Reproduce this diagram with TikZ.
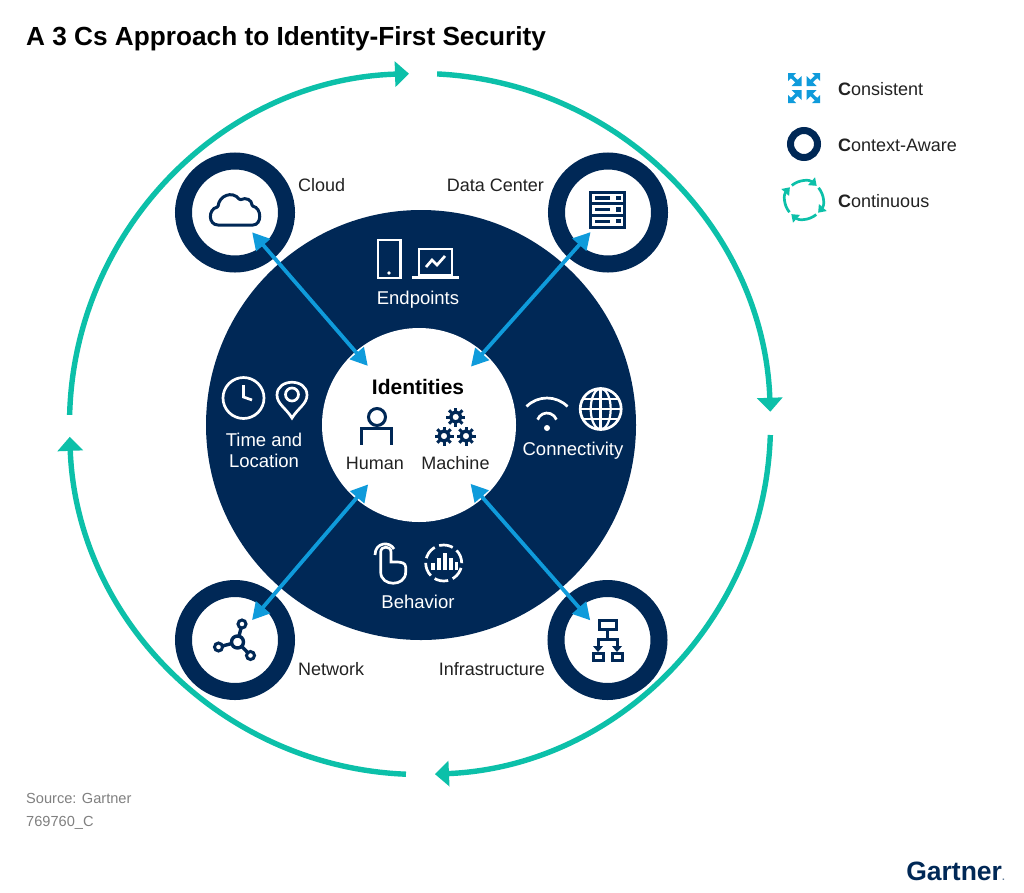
\documentclass[tikz,border=0pt]{standalone}
\usepackage{fontspec}
\setmainfont{Liberation Sans}
\usepackage{xcolor}
\usetikzlibrary{arrows.meta}
\definecolor{navy}{HTML}{002856}
\definecolor{teal}{HTML}{0CC0A9}
\definecolor{sky}{HTML}{0F9BDB}
\definecolor{inkgrey}{HTML}{222222}
\newcommand{\fs}[1]{\fontsize{#1}{21}\selectfont}
\tikzset{
  bigdisk/.style={circle, fill=navy, minimum size=430pt, inner sep=0pt},
  hubdisk/.style={circle, fill=white, minimum size=194pt, inner sep=0pt},
  hubstop/.style={circle, minimum size=156pt, inner sep=0pt},
  ringnode/.style={circle, draw=navy, line width=17pt, fill=white, minimum size=103pt, inner sep=0pt},
  iconstop/.style={circle, minimum size=52pt, inner sep=0pt},
  link/.style={sky, line width=3.8pt, {Triangle[length=17pt,width=18pt]}-{Triangle[length=17pt,width=18pt]}},
  loopline/.style={teal, line width=5.4pt},
  looparrow/.style={loopline, -{Triangle[length=14pt,width=25pt]}},
  whitelabel/.style={white, font=\fs{18.5}, align=center, inner sep=0pt},
  darklabel/.style={inkgrey, font=\fs{18}, inner sep=0pt},
  keylabel/.style={inkgrey, font=\fs{18}, anchor=west, inner sep=0pt},
  navyicon/.style={navy, line width=3pt},
  whiteicon/.style={white, line width=2.7pt},
  gear/.pic={
    \draw [navy, line width=3.4pt] (0,0) circle (5pt);
    \foreach \a in {0,45,...,315} \draw [navy, line width=3pt] (\a:6pt) -- (\a:9.5pt);
  }
}
\begin{document}
\begin{tikzpicture}[x=1pt, y=-1pt]
\useasboundingbox (0,0) rectangle (1024,892);
\fill [white] (0,0) rectangle (1024,892);

% Title
\node (title) [anchor=west, inner sep=0pt, font=\fs{26.2}\bfseries] at (26,39) {A 3 Cs Approach to Identity-First Security};

% Outer loop
\coordinate (loopcentre) at (420,424);
\draw [looparrow] (loopcentre) ++(-87.2:350.5) arc[start angle=-87.2, end angle=-2, radius=350.5];
\draw [looparrow] (loopcentre) ++(1.8:350.5) arc[start angle=1.8, end angle=87.55, radius=350.5];
\draw [looparrow] (loopcentre) ++(92.3:350.5) arc[start angle=92.3, end angle=177.9, radius=350.5];
\draw [looparrow] (loopcentre) ++(181.5:350.5) arc[start angle=181.5, end angle=268.2, radius=350.5];

% Centre
\node (ringdisk) [bigdisk] at (421,425) {};
\node (hubwhite) [hubdisk] at (419,425) {};
\node (hub) [hubstop] at (419,425) {};

% Corner rings
\node (cloud) [ringnode] at (235,212.5) {};
\node (datacenter) [ringnode] at (608,212.5) {};
\node (network) [ringnode] at (235,640) {};
\node (infra) [ringnode] at (607.5,640) {};
\node (cloudstop) [iconstop] at (cloud) {};
\node (datastop) [iconstop] at (datacenter) {};
\node (networkstop) [iconstop] at (network) {};
\node (infrastop) [iconstop] at (infra) {};

% Arrows
\draw [link] (cloudstop) -- (hub);
\draw [link] (datastop) -- (hub);
\draw [link] (networkstop) -- (hub);
\draw [link] (infrastop) -- (hub);

% Labels
\node (cloudlabel) [darklabel, anchor=west] at (298,185) {Cloud};
\node (datalabel) [darklabel, anchor=east] at (544,185) {Data Center};
\node (networklabel) [darklabel, anchor=west] at (298,669) {Network};
\node (infralabel) [darklabel, anchor=east] at (545,669) {Infrastructure};
\node (endpoints) [whitelabel] at (418,300) {Endpoints};
\node (timeloc) [whitelabel] at (264,450) {Time and\\Location};
\node (connectivity) [whitelabel] at (573,451) {Connectivity};
\node (behavior) [whitelabel] at (418,602) {Behavior};
\node (identities) [inner sep=0pt, font=\fs{21}\bfseries] at (418,386.5) {Identities};
\node (human) [darklabel] at (375,463) {Human};
\node (machine) [darklabel] at (455.5,463) {Machine};

% Cloud icon
\draw [navyicon, rounded corners=1pt] (219,225) .. controls (208,225) and (208,209) .. (218,207) .. controls (219,196) and (232,190) .. (240,200) .. controls (246,197) and (252,200) .. (252,206) .. controls (262,208) and (262,225) .. (252,225) -- cycle;

% Data center icon
\foreach \y in {192,203.7,215.4} {
  \draw [navyicon] (590,\y) rectangle (624,\y+11.7);
  \draw [navy, line width=3.4pt] (595,\y+5.8) -- (610,\y+5.8);
  \fill [navy] (616,\y+3.6) rectangle (620.5,\y+8);
}

% Network icon
\draw [navyicon, line width=3.4pt] (237.5,642) -- (242,624) (237.5,642) -- (218.5,647) (237.5,642) -- (250.5,655.5);
\draw [navyicon, fill=white, line width=3.4pt] (237.5,642) circle (6pt);
\draw [navyicon, fill=white] (242,624) circle (4pt);
\draw [navyicon, fill=white] (218.5,647) circle (4pt);
\draw [navyicon, fill=white] (250.5,655.5) circle (4pt);

% Infrastructure icon
\draw [navyicon] (599,620) rectangle (616,629.5);
\draw [navyicon] (593,653) rectangle (603.5,660.5);
\draw [navyicon] (612,653) rectangle (622.5,660.5);
\draw [navyicon] (607.5,629.5) -- (607.5,639);
\draw [navyicon] (598,647) -- (598,639) -- (617,639) -- (617,647);
\fill [navy] (593,646) -- (603,646) -- (598,652) -- cycle;
\fill [navy] (612,646) -- (622,646) -- (617,652) -- cycle;

% Human icon
\draw [navyicon] (377,417) circle (8.5pt);
\draw [navyicon] (361,444.5) -- (361,428) -- (391,428) -- (391,444.5);

% Gears
\pic at (455.7,417) {gear};
\pic at (444,436) {gear};
\pic at (466,436) {gear};

% Endpoint icons
\draw [whiteicon] (378,240) rectangle (400.5,278);
\fill [white] (389,273) circle (1.8pt);
\draw [whiteicon] (419,249) rectangle (452,275);
\draw [whiteicon] (412,277.5) -- (458.5,277.5);
\draw [whiteicon] (426,267) -- (432,260) -- (437,265) -- (445,256);

% Clock and pin
\draw [whiteicon] (243.5,398) circle (20.5pt);
\draw [whiteicon] (243.5,385) -- (243.5,397) -- (252,400);
\draw [whiteicon] (292,418) .. controls (286,408) and (277,404) .. (277,395) .. controls (277,378) and (307,378) .. (307,395) .. controls (307,404) and (298,408) .. (292,418) -- cycle;
\draw [whiteicon] (292,394.5) circle (6.5pt);

% Wifi and globe
\draw [whiteicon] (526.5,406.5) arc[start angle=225, end angle=315, radius=29];
\draw [whiteicon] (537.6,419.6) arc[start angle=200, end angle=340, radius=10];
\fill [white] (547,428) circle (3pt);
\draw [whiteicon] (600.7,409) circle (20.5pt);
\draw [whiteicon] (600.7,388.5) -- (600.7,429.5) (580.2,409) -- (621.2,409);
\draw [whiteicon, line width=2.2pt] (600.7,409) ellipse (10pt and 20.5pt);
\draw [whiteicon, line width=2.2pt] (583,399) -- (618.4,399) (583,419) -- (618.4,419);

% Hand and chart
\draw [whiteicon] (380.7,552) -- (380.7,572) .. controls (380.7,587) and (405.7,587) .. (405.7,572) -- (405.7,567) .. controls (405.7,563) and (401,562) .. (397,562) -- (391,562) -- (391,552) .. controls (391,545.5) and (380.7,545.5) .. (380.7,552) -- cycle;
\draw [whiteicon] (375,555) .. controls (375,542) and (390,541) .. (394,549);
\draw [whiteicon, dash pattern=on 14pt off 4.8pt] (443.7,563) circle (18pt);
\draw [whiteicon, line width=3.4pt] (433,570) -- (433,563) (439,570) -- (439,558) (445,570) -- (445,553) (451,570) -- (451,558) (456.5,570) -- (456.5,562);

% Legend
\foreach \sx/\sy in {-1/-1,1/-1,-1/1,1/1} {
  \fill [sky] (804+\sx*2.5,88+\sy*2) -- (804+\sx*2.5,88+\sy*12) -- (804+\sx*12.5,88+\sy*2) -- cycle;
  \fill [sky] (804+\sx*16,88+\sy*15) -- (804+\sx*8,88+\sy*15) -- (804+\sx*16,88+\sy*7) -- cycle;
  \draw [sky, line width=3.4pt] (804+\sx*6,88+\sy*5.5) -- (804+\sx*13,88+\sy*12);
}
\node (keyconsistent) [keylabel] at (838,89) {\textbf{C}onsistent};
\node (keyring) [circle, draw=navy, line width=7pt, minimum size=27pt, inner sep=0pt] at (804,144) {};
\node (keycontext) [keylabel] at (838,145) {\textbf{C}ontext-Aware};
\foreach \a in {50,140,230,320} {
  \draw [teal, line width=2.7pt, -{Triangle[length=7pt,width=10pt]}] (804,200) ++(\a:19) arc[start angle=\a, end angle=\a+82, radius=19];
}
\node (keycontinuous) [keylabel] at (838,201) {\textbf{C}ontinuous};

% Source
\node (source) [anchor=west, inner sep=0pt, gray, font=\fs{14.6}] at (26,798) {Source: Gartner};
\node (docid) [anchor=west, inner sep=0pt, gray, font=\fs{14.6}] at (26,823) {769760\_C};
\node (logo) [anchor=east, inner sep=0pt, navy, font=\fs{26.5}\bfseries] at (1005,871) {Gartner{\fs{10}\textcolor{navy!60}{.}}};
\end{tikzpicture}
\end{document}
